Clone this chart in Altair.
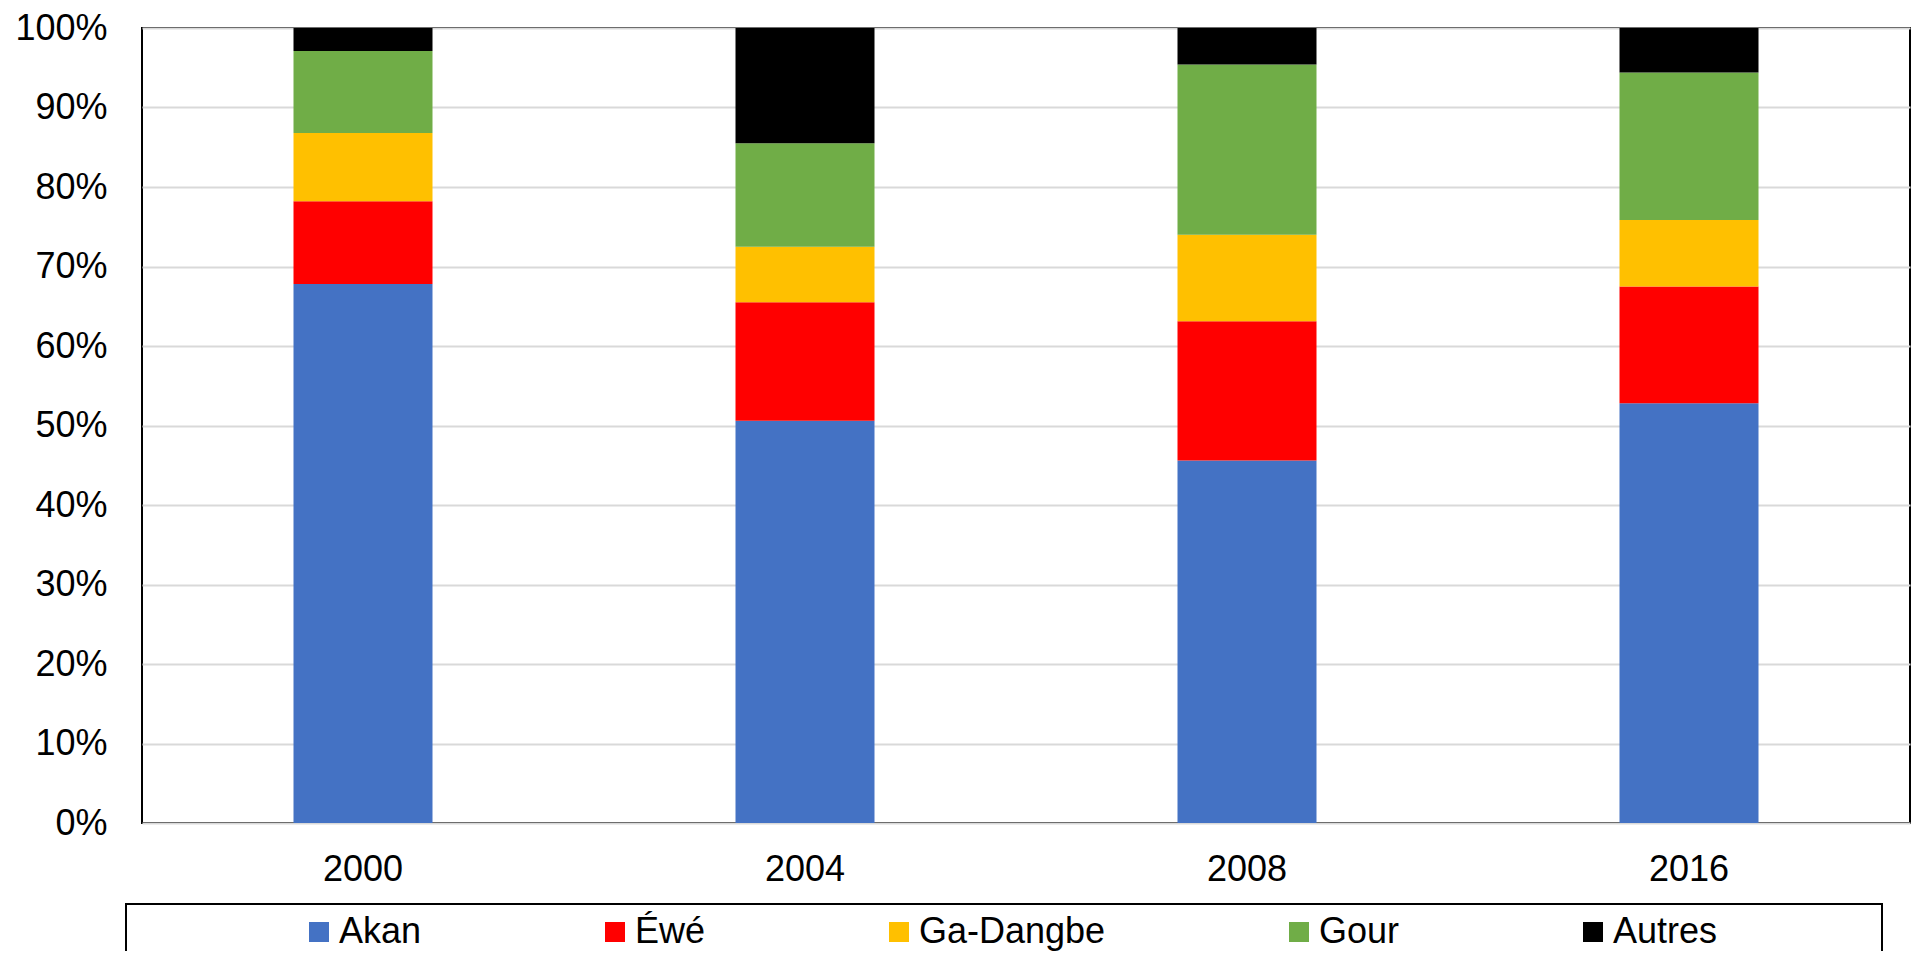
import altair as alt
import pandas as pd

years = ["2000", "2004", "2008", "2016"]
groups = ["Akan", "Éwé", "Ga-Dangbe", "Gour", "Autres"]
colors = ["#4472C4", "#FF0000", "#FFC000", "#70AD47", "#000000"]

akan = [67.8, 50.6, 45.6, 52.8]
ewe = [10.4, 14.9, 17.5, 14.7]
ga_dangbe = [8.6, 7.0, 10.9, 8.35]
gour = [10.3, 13.0, 21.4, 18.55]
autres = [2.9, 14.5, 4.6, 5.6]

series = [akan, ewe, ga_dangbe, gour, autres]
rows = []
for gi, (g, vals) in enumerate(zip(groups, series)):
    for y, v in zip(years, vals):
        rows.append({"year": y, "group": g, "value": v, "idx": gi})
df = pd.DataFrame(rows)

FONT = "Liberation Sans"

bars = alt.Chart(df).mark_bar(size=139).encode(
    x=alt.X("year:N", sort=years,
            scale=alt.Scale(paddingInner=0.69, paddingOuter=0.345),
            axis=alt.Axis(title=None, labelAngle=0, labelFontSize=36, labelFont=FONT,
                          labelColor="#000000", tickSize=0, domain=False, labelPadding=29,
                          grid=False)),
    y=alt.Y("value:Q", stack="normalize",
            scale=alt.Scale(domain=[0, 1], nice=False),
            axis=alt.Axis(title=None, values=[i / 10 for i in range(11)], format=".0%",
                          labelFontSize=36, labelFont=FONT, labelColor="#000000",
                          tickSize=0, domain=False, labelPadding=35,
                          grid=True, gridColor="#d9d9d9", gridWidth=2)),
    color=alt.Color("group:N", sort=groups,
                    scale=alt.Scale(domain=groups, range=colors),
                    legend=alt.Legend(title=None, orient="none", direction="horizontal",
                                      legendX=159, legendY=886, padding=0,
                                      symbolType="square", symbolSize=400,
                                      symbolStrokeWidth=0, symbolOpacity=1,
                                      labelFontSize=36, labelFont=FONT, labelColor="#000000",
                                      labelOffset=2, columnPadding=175, labelLimit=0)),
    order=alt.Order("idx:Q", sort="ascending"),
)

legend_box = alt.Chart(alt.Data(values=[{"k": 1}])).mark_rect(
    fillOpacity=0, stroke="#000000", strokeWidth=2
).encode(
    x=alt.value(-16), x2=alt.value(1740), y=alt.value(876), y2=alt.value(990)
)

chart = alt.layer(bars, legend_box).properties(
    width=1768, height=795,
    autosize=alt.AutoSizeParams(type="none"),
    padding={"left": 134, "top": 20, "right": 1, "bottom": 128},
).configure_view(stroke="#000000", strokeWidth=2)

chart.save("out.html", embed_options={"renderer": "svg", "actions": False})
